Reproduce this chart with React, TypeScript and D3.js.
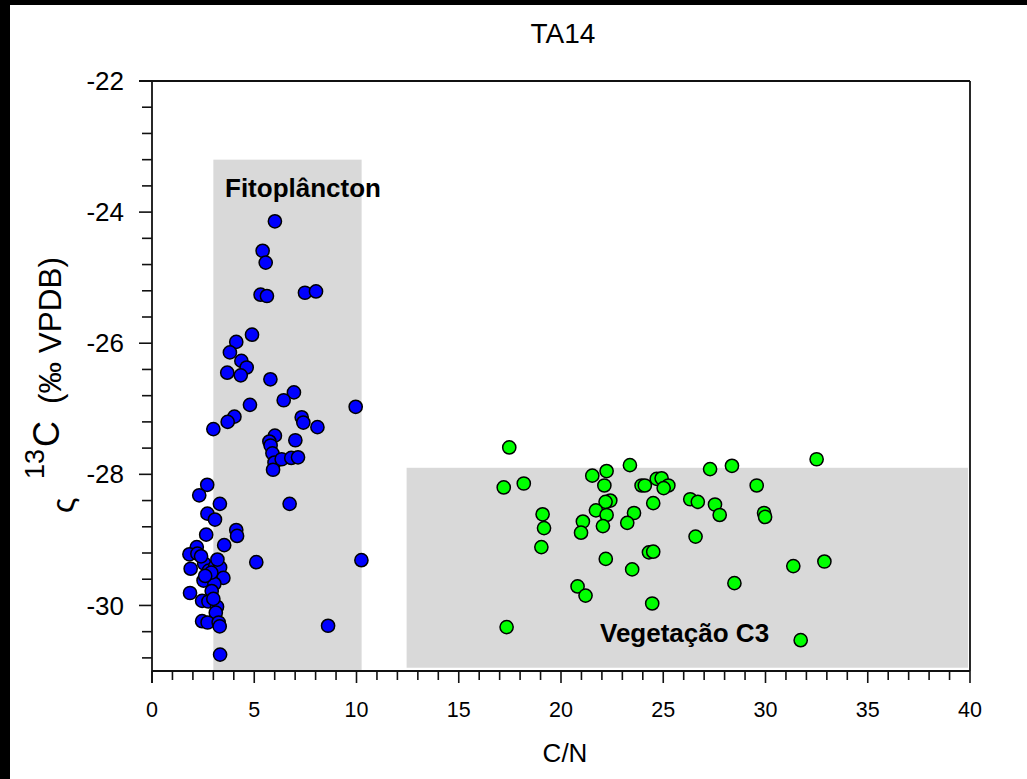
import React from "react";
import * as d3 from "d3";

const xTickLabels = [0, 5, 10, 15, 20, 25, 30, 35, 40];
const yTickLabels = [-22, -24, -26, -28, -30];

const fitoBox = { x0: 3.0, x1: 10.25, y0: -31, y1: -23.2 };
const vegBox = { x0: 12.45, x1: 39.9, y0: -30.95, y1: -27.9 };

const fitoplanctonCN = [
  6.01, 5.41, 5.56, 5.31, 5.62, 7.48, 8.02, 4.89, 4.12, 3.81, 4.37, 4.63, 3.68, 4.34, 5.79, 6.94, 6.44, 4.79, 9.96,
  4.03, 3.70, 7.32, 7.40, 8.09, 3.00, 6.01, 5.74, 7.01, 5.80, 5.89, 5.99, 5.92, 6.34, 6.81, 7.14, 2.70, 2.31, 3.32,
  6.73, 2.71, 3.08, 4.12, 4.16, 2.65, 3.53, 2.19, 1.83, 2.22, 2.55, 1.89, 2.78, 3.09, 3.33, 3.49, 2.52, 3.05, 2.92,
  5.10, 10.24, 1.86, 2.45, 2.76, 3.18, 3.12, 2.45, 2.72, 3.26, 3.31, 8.61, 3.33, 2.40, 2.90, 3.00, 2.60, 3.20,
];
const fitoplanctonD13C = [
  -24.14, -24.59, -24.77, -25.26, -25.28, -25.23, -25.21, -25.87, -25.98, -26.14, -26.27, -26.37, -26.45, -26.49,
  -26.55, -26.75, -26.87, -26.94, -26.97, -27.12, -27.2, -27.13, -27.21, -27.28, -27.31, -27.41, -27.5, -27.48,
  -27.56, -27.68, -27.82, -27.93, -27.77, -27.75, -27.74, -28.16, -28.32, -28.45, -28.45, -28.6, -28.69, -28.85,
  -28.94, -28.92, -29.08, -29.11, -29.22, -29.21, -29.36, -29.44, -29.47, -29.4, -29.42, -29.58, -29.62, -29.67,
  -29.78, -29.34, -29.31, -29.81, -29.93, -29.94, -30.02, -30.11, -30.24, -30.26, -30.26, -30.32, -30.31, -30.75,
  -29.25, -29.5, -29.9, -29.55, -29.3,
];

const vegetacaoCN = [
  17.47, 17.2, 18.18, 19.1, 19.17, 19.04, 21.53, 22.23, 22.12, 23.37, 22.41, 22.18, 21.71, 22.23, 21.07, 20.98, 22.05,
  23.57, 23.24, 23.94, 24.1, 24.51, 24.68, 24.92, 25.25, 25.02, 26.32, 26.69, 26.58, 22.19, 24.3, 24.51, 23.48, 20.81,
  21.2, 24.46, 17.34, 27.29, 28.36, 32.5, 29.57, 27.53, 27.76, 29.93, 29.98, 31.36, 32.88, 28.48, 31.72,
];
const vegetacaoD13C = [
  -27.59, -28.2, -28.14, -28.61, -28.82, -29.11, -28.02, -27.95, -28.17, -27.86, -28.4, -28.42, -28.55, -28.62,
  -28.72, -28.89, -28.79, -28.59, -28.74, -28.17, -28.17, -28.44, -28.07, -28.06, -28.17, -28.21, -28.38, -28.42,
  -28.95, -29.29, -29.19, -29.18, -29.45, -29.71, -29.85, -29.97, -30.33, -27.92, -27.87, -27.77, -28.17, -28.46,
  -28.62, -28.59, -28.65, -29.4, -29.33, -29.66, -30.53,
];

const W = 1027;
const H = 779;
const left = 152;
const right = 970;
const top = 81;
const bottom = 671;
const FONT = "Liberation Sans, Arial, sans-serif";

export default function App() {
  const x = d3.scaleLinear().domain([0, 40]).range([left, right]);
  const y = d3.scaleLinear().domain([-31, -22]).range([bottom, top]);

  const xMinor = d3.range(0, 41, 1);
  const yMinor = d3.range(0, 23).map((i) => -22 - i * 0.4);

  const fito = fitoplanctonCN.map((v, i) => [v, fitoplanctonD13C[i]]);
  const veg = vegetacaoCN.map((v, i) => [v, vegetacaoD13C[i]]);

  return (
    <svg
      width={W}
      height={H}
      style={{ position: "absolute", left: 0, top: 0, background: "#fff" }}
      fontFamily={FONT}
    >
      <rect x={0} y={0} width={W} height={H} fill="#fff" />
      <rect x={0} y={0} width={10} height={H} fill="#000" />
      <rect x={0} y={0} width={W} height={5} fill="#000" />

      {/* boxes */}
      <rect
        x={x(fitoBox.x0)}
        y={y(fitoBox.y1)}
        width={x(fitoBox.x1) - x(fitoBox.x0)}
        height={y(fitoBox.y0) - y(fitoBox.y1)}
        fill="#d9d9d9"
      />
      <rect
        x={x(vegBox.x0)}
        y={y(vegBox.y1)}
        width={x(vegBox.x1) - x(vegBox.x0)}
        height={y(vegBox.y0) - y(vegBox.y1)}
        fill="#d9d9d9"
      />

      {/* frame */}
      <line x1={left - 13} x2={right} y1={top} y2={top} stroke="#111" strokeWidth={1.8} />
      <line x1={right} x2={right} y1={top} y2={bottom} stroke="#111" strokeWidth={1.8} />
      <line x1={left} x2={left} y1={top} y2={bottom + 12} stroke="#111" strokeWidth={1.8} />
      <line x1={left} x2={right} y1={bottom} y2={bottom} stroke="#111" strokeWidth={1.8} />

      {/* y ticks */}
      {yMinor.map((v, i) => {
        const major = Math.abs(v - Math.round(v)) < 1e-6 && Math.round(v) % 2 === 0;
        return (
          <line
            key={"ym" + i}
            x1={left - (major ? 13 : 10)}
            x2={left}
            y1={y(v)}
            y2={y(v)}
            stroke="#111"
            strokeWidth={1.6}
          />
        );
      })}
      {yTickLabels.map((v) => (
        <text key={"yl" + v} x={124} y={y(v)} dy="0.35em" textAnchor="end" fontSize={26} fill="#000">
          {v}
        </text>
      ))}

      {/* x ticks */}
      {xMinor.map((v) => {
        const major = v % 5 === 0;
        return (
          <line
            key={"xm" + v}
            x1={x(v)}
            x2={x(v)}
            y1={bottom}
            y2={bottom + (major ? 12 : 9)}
            stroke="#111"
            strokeWidth={1.6}
          />
        );
      })}
      {xTickLabels.map((v) => (
        <text key={"xl" + v} x={x(v)} y={717} textAnchor="middle" fontSize={21.5} fill="#000">
          {v}
        </text>
      ))}

      {/* points */}
      {fito.map((d, i) => (
        <circle key={"f" + i} cx={x(d[0])} cy={y(d[1])} r={6.6} fill="#0000ff" stroke="#000" strokeWidth={1.5} />
      ))}
      {veg.map((d, i) => (
        <circle key={"v" + i} cx={x(d[0])} cy={y(d[1])} r={6.6} fill="#00ff00" stroke="#000" strokeWidth={1.5} />
      ))}

      {/* box labels */}
      <text x={225} y={197} fontSize={26} fontWeight="bold" fill="#000">
        Fitoplâncton
      </text>
      <text x={600} y={642} fontSize={26} fontWeight="bold" fill="#000">
        Vegetação C3
      </text>

      {/* title */}
      <text x={(left + right) / 2 + 2} y={43} textAnchor="middle" fontSize={28} fill="#000">
        TA14
      </text>

      {/* axis titles */}
      <text x={(left + right) / 2 + 4} y={762} textAnchor="middle" fontSize={26} fill="#000">
        C/N
      </text>
      <g fill="#000">
        <text transform="translate(74, 513) rotate(-90)" fontSize={32}>ς</text>
        <text transform="translate(44, 479) rotate(-90)" fontSize={27}>13</text>
        <text transform="translate(59, 447) rotate(-90)" fontSize={36}>C</text>
        <text transform="translate(61, 404) rotate(-90)" fontSize={31.5}>(‰ VPDB)</text>
      </g>
    </svg>
  );
}
